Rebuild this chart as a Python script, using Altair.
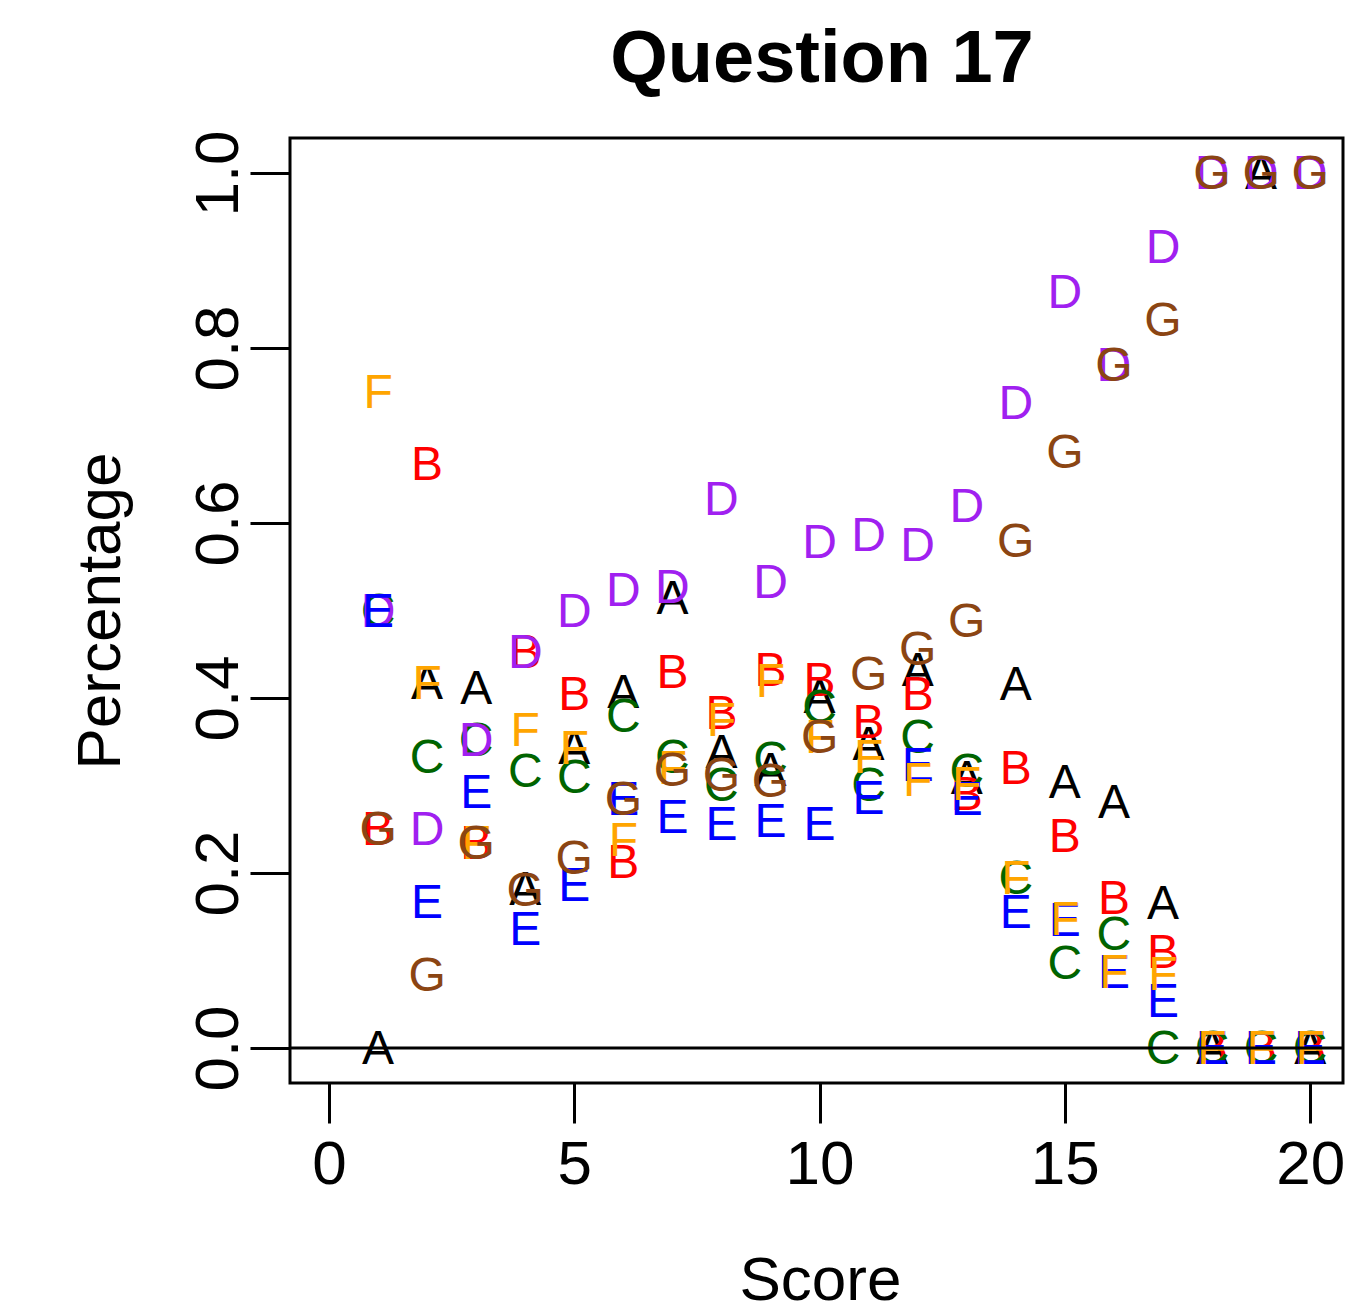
import altair as alt
import pandas as pd

scores = list(range(1, 21))
options = ["A", "B", "C", "D", "E", "F", "G"]
colors = ["#000000", "#FF0000", "#006400", "#A020F0", "#0000FF", "#FFA500", "#8B4513"]

A = [0.0, 0.417, 0.412, 0.182, 0.343, 0.407, 0.514, 0.338, 0.318, 0.401, 0.348, 0.432, 0.309, 0.416, 0.304, 0.281, 0.166, 0.0, 1.0, 0.0]
B = [0.25, 0.667, 0.234, 0.453, 0.405, 0.213, 0.43, 0.383, 0.432, 0.421, 0.373, 0.405, 0.29, 0.32, 0.242, 0.172, 0.11, 0.0, 0.0, 0.0]
C = [0.5, 0.333, 0.352, 0.317, 0.31, 0.38, 0.333, 0.301, 0.33, 0.39, 0.301, 0.356, 0.317, 0.194, 0.097, 0.13, 0.0, 0.0, 0.0, 0.0]
D = [0.5, 0.25, 0.352, 0.453, 0.5, 0.523, 0.527, 0.627, 0.533, 0.578, 0.586, 0.575, 0.619, 0.737, 0.864, 0.781, 0.916, 1.0, 1.0, 1.0]
E = [0.5, 0.167, 0.293, 0.136, 0.186, 0.285, 0.264, 0.256, 0.26, 0.256, 0.286, 0.323, 0.285, 0.156, 0.146, 0.087, 0.054, 0.0, 0.0, 0.0]
F = [0.75, 0.417, 0.234, 0.363, 0.343, 0.238, 0.32, 0.375, 0.42, 0.356, 0.333, 0.306, 0.302, 0.194, 0.148, 0.087, 0.085, 0.0, 0.0, 0.0]
G = [0.25, 0.083, 0.234, 0.181, 0.217, 0.285, 0.318, 0.312, 0.305, 0.356, 0.428, 0.456, 0.488, 0.58, 0.681, 0.781, 0.832, 1.0, 1.0, 1.0]

x_ticks = [0, 5, 10, 15, 20]
y_ticks = [0.0, 0.2, 0.4, 0.6, 0.8, 1.0]
title_text = "Question 17"

series = {"A": A, "B": B, "C": C, "D": D, "E": E, "F": F, "G": G}
rows = []
for i, opt in enumerate(options):
    for s, v in zip(scores, series[opt]):
        rows.append({"Score": s, "Percentage": v, "Option": opt, "ord": i})
df = pd.DataFrame(rows)

FONT = "Liberation Sans"
W, H = 1053, 945

xscale = alt.Scale(domain=[-0.795, 20.67], nice=False, zero=False)
yscale = alt.Scale(domain=[-0.04, 1.04], nice=False, zero=False)

xaxis = alt.Axis(
    values=x_ticks, grid=False, domain=False, tickSize=40, tickWidth=3, tickColor="black",
    labelFontSize=62, labelFont=FONT, labelColor="black", labelPadding=60,
    labelBaseline="alphabetic", labelFlush=False, labelOverlap=False,
    title="Score", titleFontSize=62, titleFont=FONT, titleFontWeight="normal", titleColor="black",
    titleX=530, titleY=216, titleBaseline="alphabetic", titleAlign="center",
)
yaxis = alt.Axis(
    values=y_ticks, format=".1f", grid=False, domain=False, tickSize=40, tickWidth=3, tickColor="black",
    labelFontSize=62, labelFont=FONT, labelColor="black", labelPadding=13, labelAngle=270,
    labelAlign="center", labelBaseline="alphabetic", labelOverlap=False, labelFlush=False,
    title="Percentage", titleFontSize=62, titleFont=FONT, titleFontWeight="normal", titleColor="black",
    titleAngle=270, titleX=-171, titleY=H / 2, titleBaseline="alphabetic", titleAlign="center",
)

text = alt.Chart(df).mark_text(fontSize=48, font=FONT, baseline="middle", align="center", dy=2).encode(
    x=alt.X("Score:Q", scale=xscale, axis=xaxis),
    y=alt.Y("Percentage:Q", scale=yscale, axis=yaxis),
    text="Option:N",
    color=alt.Color("Option:N", scale=alt.Scale(domain=options, range=colors), legend=None),
)

zero_line = alt.Chart(pd.DataFrame({"z": [0.0]})).mark_rule(color="black", strokeWidth=3).encode(
    y=alt.Y("z:Q", scale=yscale),
)

title = alt.Chart(pd.DataFrame({"t": [title_text]})).mark_text(
    fontSize=74, font=FONT, fontWeight="bold", color="black", align="center", baseline="alphabetic"
).encode(
    text="t:N",
    x=alt.value(532),
    y=alt.value(-56),
)

chart = alt.layer(text, zero_line, title).properties(
    width=W,
    height=H,
    padding={"left": 282, "top": 130, "right": 2, "bottom": 218},
    autosize=alt.AutoSizeParams(type="none"),
).configure_view(stroke="black", strokeWidth=3)

chart.save("out.html", embed_options={"renderer": "svg", "actions": False})
